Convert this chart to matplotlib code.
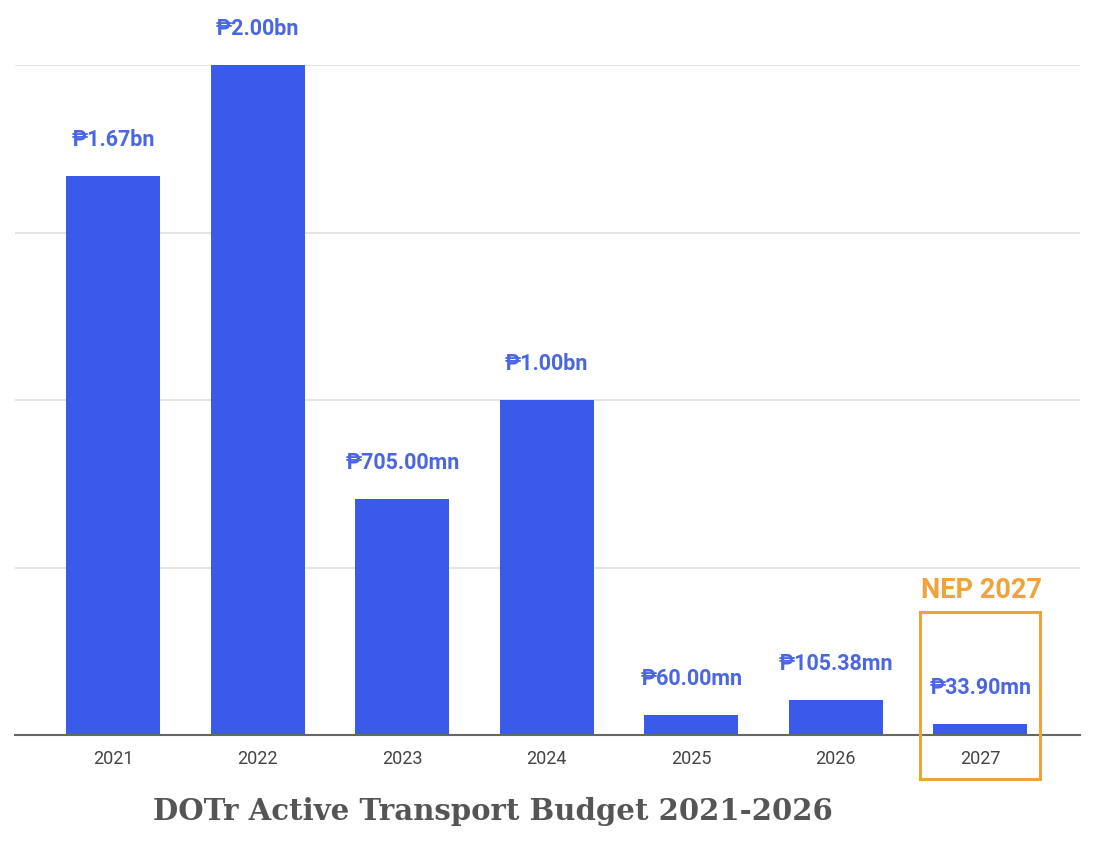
import matplotlib
matplotlib.use("Agg")
import matplotlib.pyplot as plt
from matplotlib.patches import Rectangle

years = ["2021", "2022", "2023", "2024", "2025", "2026", "2027"]
budget_bn = [1.67, 2.00, 0.705, 1.00, 0.060, 0.10538, 0.0339]
value_labels = ["₱1.67bn", "₱2.00bn", "₱705.00mn", "₱1.00bn", "₱60.00mn", "₱105.38mn", "₱33.90mn"]
title = "DOTr Active Transport Budget 2021-2026"
highlight_label = "NEP 2027"

bar_color = "#3a5be9"
label_color = "#4a66e3"
orange = "#f0a33a"

fig = plt.figure(figsize=(11.06, 8.42), dpi=100)
fig.patch.set_facecolor("white")
ax = fig.add_axes([15/1106, (842-735)/842, (1080-15)/1106, (735-65)/842])

x = list(range(len(years)))
bars = ax.bar(x, budget_bn, width=0.65, color=bar_color, zorder=3)
ax.set_ylim(0, 2.0)
ax.set_xlim(-0.68, 6.69)
ax.set_yticks([0.5, 1.0, 1.5, 2.0])
ax.set_yticklabels([])
ax.tick_params(axis="y", length=0)
ax.yaxis.grid(True, color="#e0e0e0", linewidth=1.2, zorder=0)
ax.set_axisbelow(True)
for s in ["top", "right", "left"]:
    ax.spines[s].set_visible(False)
ax.spines["bottom"].set_color("#666666")
ax.spines["bottom"].set_linewidth(1.5)
ax.spines["bottom"].set_zorder(4)
ax.set_xticks(x)
ax.set_xticklabels(years, fontsize=13, color="#444444", family=["Roboto", "DejaVu Sans"])
ax.tick_params(axis="x", length=0, pad=11)

for xi, v, lab in zip(x, budget_bn, value_labels):
    ax.annotate(lab, (xi, v), xytext=(0, 18), textcoords="offset points",
                ha="center", va="bottom", fontsize=15.5, fontweight="bold",
                color=label_color, family=["Roboto", "DejaVu Sans"], clip_on=False)

# highlight box around the last category
rect = Rectangle((5.58, -0.131), 0.83, 0.499, fill=False, edgecolor=orange,
                 linewidth=2.2, clip_on=False, zorder=5)
ax.add_patch(rect)
ax.text(6.005, 0.39, highlight_label, ha="center", va="bottom", fontsize=19.5,
        fontweight="bold", color=orange, family=["Roboto", "DejaVu Sans"])

fig.text(493/1106, 1 - 812/842, title, ha="center", va="center", fontsize=21,
         fontweight="bold", color="#555555", family="DejaVu Serif")

fig.savefig("out.png", dpi=100, facecolor="white")
